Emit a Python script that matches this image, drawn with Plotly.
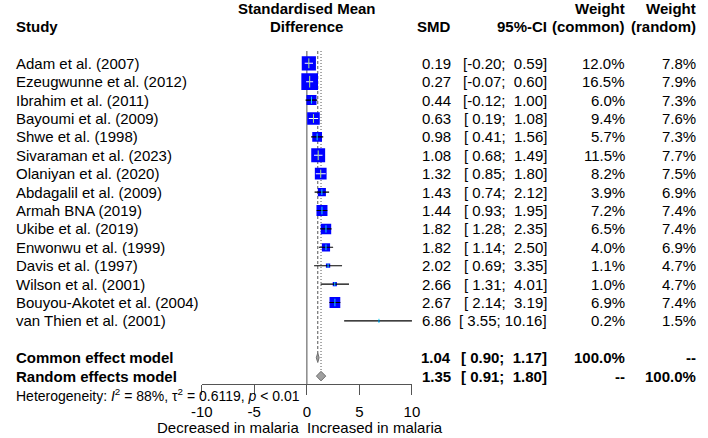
import numpy as np
import plotly.graph_objects as go

# ---------------- data ----------------
studies = ["Adam et al. (2007)", "Ezeugwunne et al. (2012)", "Ibrahim et al. (2011)",
           "Bayoumi et al. (2009)", "Shwe et al. (1998)", "Sivaraman et al. (2023)",
           "Olaniyan et al. (2020)", "Abdagalil et al. (2009)", "Armah BNA (2019)",
           "Ukibe et al. (2019)", "Enwonwu et al. (1999)", "Davis et al. (1997)",
           "Wilson et al. (2001)", "Bouyou-Akotet et al. (2004)", "van Thien et al. (2001)"]
smd = [0.19, 0.27, 0.44, 0.63, 0.98, 1.08, 1.32, 1.43, 1.44, 1.82, 1.82, 2.02, 2.66, 2.67, 6.86]
lower = [-0.20, -0.07, -0.12, 0.19, 0.41, 0.68, 0.85, 0.74, 0.93, 1.28, 1.14, 0.69, 1.31, 2.14, 3.55]
upper = [0.59, 0.60, 1.00, 1.08, 1.56, 1.49, 1.80, 2.12, 1.95, 2.35, 2.50, 3.35, 4.01, 3.19, 10.16]
w_common = [12.0, 16.5, 6.0, 9.4, 5.7, 11.5, 8.2, 3.9, 7.2, 6.5, 4.0, 1.1, 1.0, 6.9, 0.2]
w_random = [7.8, 7.9, 7.3, 7.6, 7.3, 7.7, 7.5, 6.9, 7.4, 7.4, 6.9, 4.7, 4.7, 7.4, 1.5]

common_est, common_lo, common_hi = 1.04, 0.90, 1.17
random_est, random_lo, random_hi = 1.35, 0.91, 1.80
heterogeneity = "Heterogeneity: <i>I</i><sup>2</sup> = 88%, τ<sup>2</sup> = 0.6119, <i>p</i> &lt; 0.01"
tick_vals = [-10, -5, 0, 5, 10]
tick_text = ["-10", "-5", "0", "5", "10"]
label_left = "Decreased in malaria"
label_right = "Increased in malaria"

# ---------------- layout constants ----------------
W, H = 708, 438
ROW0, ROWH = 63.3, 18.4          # pixel y of first study row, row height
AX_L, AX_R, AX_Y = 196, 412, 384  # forest axis extent and axis line y (px)
PXU = (AX_R - AX_L) / 20.0        # px per unit
FONT = "Liberation Sans, Arial, sans-serif"
FS = 15


def row_of(py):
    return (py - ROW0) / ROWH


def px(x):
    return x / W


n = len(studies)
rows = list(range(n))
row_common, row_random, row_het = n + 1, n + 2, n + 3

fig = go.Figure()

# reference lines
top = row_of(51)
fig.add_trace(go.Scatter(x=[0, 0], y=[top, row_of(AX_Y)], mode="lines",
                         line=dict(color="#777777", width=1.3), hoverinfo="skip"))
fig.add_trace(go.Scatter(x=[common_est, common_est], y=[top, row_common - 0.25], mode="lines",
                         line=dict(color="#555555", width=1, dash="3px,2px"), hoverinfo="skip"))
fig.add_trace(go.Scatter(x=[random_est, random_est], y=[top, row_random - 0.25], mode="lines",
                         line=dict(color="#555555", width=1, dash="1px,2px"), hoverinfo="skip"))

# squares
sides = [4.1 * np.sqrt(w) for w in w_common]
inside = [(u - l) * PXU < s for l, u, s in zip(lower, upper, sides)]

fig.add_trace(go.Scatter(x=smd, y=rows, mode="markers",
                         marker=dict(symbol="square", size=sides, color="#0000FF", opacity=1,
                                     line=dict(width=0)),
                         hoverinfo="skip"))

# CI lines
for white in (False, True):
    xs, ys, mx, my, ms = [], [], [], [], []
    for i in range(n):
        if inside[i] != white:
            continue
        xs += [lower[i], upper[i], None]
        ys += [rows[i], rows[i], None]
        mx.append(smd[i]); my.append(rows[i]); ms.append(max(3, sides[i] * 0.5))
    col = "white" if white else "black"
    fig.add_trace(go.Scatter(x=xs, y=ys, mode="lines",
                             line=dict(color=col, width=1.1), hoverinfo="skip"))
    fig.add_trace(go.Scatter(x=mx, y=my, mode="markers",
                             marker=dict(symbol="line-ns-open", size=ms, opacity=1,
                                         line=dict(color=col, width=1)),
                             hoverinfo="skip"))

# diamonds
for est, lo, hi, r in ((common_est, common_lo, common_hi, row_common),
                       (random_est, random_lo, random_hi, row_random)):
    fig.add_trace(go.Scatter(x=[lo, est, hi, est, lo], y=[r, r - 0.26, r, r + 0.26, r],
                             mode="lines", fill="toself", fillcolor="#A0A0A0",
                             line=dict(color="#707070", width=1), hoverinfo="skip"))

# ---------------- text ----------------
ann = []


def add(text, x, y, anchor="left", size=FS, bold=False):
    ann.append(dict(text=("<b>%s</b>" % text) if bold else text, x=x, y=y,
                    xref="paper", yref="y", xanchor=anchor, yanchor="middle",
                    showarrow=False, font=dict(family=FONT, size=size, color="black")))


# headers
add("Study", px(3), -2, bold=True)
add("Standardised Mean", px(304), -3, "center", bold=True)
add("Difference", px(304), -2, "center", bold=True)
add("SMD", px(454), -2, "right", bold=True)
add("95%-CI", px(553), -2, "right", bold=True)
add("Weight", px(633), -3, "right", bold=True)
add("(common)", px(633), -2, "right", bold=True)
add("Weight", px(706), -3, "right", bold=True)
add("(random)", px(706), -2, "right", bold=True)

NB = "\u00a0"


def ci_text(lo, hi):
    return ("[" + ("%.2f" % lo).rjust(5) + "; " + ("%.2f" % hi).rjust(5) + "]").replace(" ", NB)


for i in range(n):
    add(studies[i], px(3), rows[i])
    add("%.2f" % smd[i], px(454), rows[i], "right")
    add(ci_text(lower[i], upper[i]), px(553), rows[i], "right")
    add("%.1f%%" % w_common[i], px(633), rows[i], "right")
    add("%.1f%%" % w_random[i], px(706), rows[i], "right")

add("Common effect model", px(3), row_common, bold=True)
add("%.2f" % common_est, px(454), row_common, "right", bold=True)
add(ci_text(common_lo, common_hi), px(553), row_common, "right", bold=True)
add("100.0%", px(633), row_common, "right", bold=True)
add("--", px(706), row_common, "right", bold=True)

add("Random effects model", px(3), row_random, bold=True)
add("%.2f" % random_est, px(454), row_random, "right", bold=True)
add(ci_text(random_lo, random_hi), px(553), row_random, "right", bold=True)
add("--", px(633), row_random, "right", bold=True)
add("100.0%", px(706), row_random, "right", bold=True)

add(heterogeneity, px(3), row_het, size=14)

add(label_left, px(298), row_of(427), "right")
add(label_right, px(302), row_of(427), "left")

fig.update_layout(
    width=W, height=H, margin=dict(l=0, r=0, t=0, b=0),
    paper_bgcolor="white", plot_bgcolor="white", showlegend=False,
    annotations=ann,
    xaxis=dict(domain=[px(AX_L), px(AX_R)], range=[-10, 10], tickvals=tick_vals,
               ticktext=tick_text,
               ticks="outside", ticklen=10, tickwidth=1, tickcolor="#555555",
               showline=True, linecolor="#555555", linewidth=1,
               showgrid=False, zeroline=False, anchor="free",
               position=(H - AX_Y) / H,
               tickfont=dict(family=FONT, size=FS, color="black"), ticklabelstandoff=4),
    yaxis=dict(domain=[0, 1], range=[row_of(H), row_of(0)], visible=False,
               showgrid=False, zeroline=False),
)

fig.write_html("out.html", config={"displayModeBar": False},
               post_script="document.body.style.margin='0';document.body.style.overflow='hidden';")
